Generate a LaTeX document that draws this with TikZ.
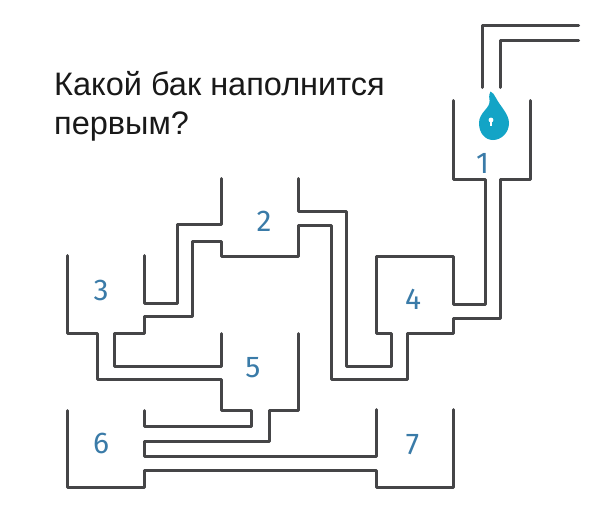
\documentclass[tikz,border=0pt]{standalone}
\usepackage{fontspec}
\setmainfont{Liberation Sans}
\newfontfamily\numfont{Fira Sans}
\definecolor{wall}{HTML}{454547}
\definecolor{numc}{HTML}{3A7BA8}
\definecolor{dropc}{HTML}{13A4C6}
\tikzset{
  wall/.style={draw=wall,line width=3pt,line cap=round,line join=round},
  num/.style={text=numc,font=\numfont\fontsize{30}{30}\selectfont,inner sep=0pt},
  title/.style={text=black!90,font=\fontsize{32.5}{42}\selectfont,anchor=base west,inner sep=0pt}
}
\begin{document}
\begin{tikzpicture}[x=1pt,y=-1pt]
\useasboundingbox (0,0) rectangle (604,527);
\fill[white] (0,0) rectangle (604,527);
% inlet pipe
\path[wall] (482.5,87.5) -- (482.5,25.5) -- (578.5,25.5);
\path[wall] (500.5,87.5) -- (500.5,40.5) -- (578.5,40.5);
% tank 1 with outlets to tank 4
\path[wall] (453.5,100.5) -- (453.5,179.5) -- (485.5,179.5) -- (485.5,304.5) -- (453.5,304.5) -- (453.5,256.5) -- (376.5,256.5) -- (376.5,333.5) -- (391.5,333.5) -- (391.5,366.5) -- (346.5,366.5) -- (346.5,211.5) -- (298.5,211.5) -- (298.5,178.5);
\path[wall] (530.5,100.5) -- (530.5,179.5) -- (500.5,179.5) -- (500.5,318.5) -- (453.5,318.5) -- (453.5,333.5) -- (407.5,333.5) -- (407.5,379.5) -- (331.5,379.5) -- (331.5,225.5) -- (298.5,225.5) -- (298.5,256.5) -- (221.5,256.5) -- (221.5,241.5) -- (192.5,241.5) -- (192.5,316.5) -- (144.5,316.5) -- (144.5,333.5) -- (114.5,333.5) -- (114.5,366.5) -- (221.5,366.5) -- (221.5,333.5);
% tank 2 left to tank 3
\path[wall] (221.5,178.5) -- (221.5,224.5) -- (177.5,224.5) -- (177.5,303.5) -- (144.5,303.5) -- (144.5,255.5);
% tank 3 to tank 6
\path[wall] (67.5,255.5) -- (67.5,333.5) -- (97.5,333.5) -- (97.5,379.5) -- (221.5,379.5) -- (221.5,410.5) -- (251.5,410.5) -- (251.5,426.5) -- (144.5,426.5) -- (144.5,410.5);
% tank 5 to tank 7
\path[wall] (298.5,333.5) -- (298.5,410.5) -- (269.5,410.5) -- (269.5,441.5) -- (144.5,441.5) -- (144.5,456.5) -- (376.5,456.5) -- (376.5,409.5);
% tank 6 to tank 7
\path[wall] (67.5,410.5) -- (67.5,487.5) -- (144.5,487.5) -- (144.5,470.5) -- (376.5,470.5) -- (376.5,487.5) -- (453.5,487.5) -- (453.5,409.5);
% drop
\fill[dropc] (490.5,91.5) .. controls (493,92) and (494,95) .. (496,98)
  .. controls (500,106) and (509,114) .. (509,123)
  .. controls (509,133) and (501,140) .. (493,140)
  .. controls (485,140) and (479,133) .. (479,123)
  .. controls (479,112) and (491,108) .. (489.5,100)
  .. controls (489,96) and (489,93) .. (490.5,91.5) -- cycle;
\fill[white] (491,120) circle (2.4);
\fill[white] (490.3,120) rectangle (491.7,126);
% labels
\node[title] (q1) at (54,95.5) {Какой бак наполнится};
\node[title] (q2) at (54,134.5) {первым?};
\node[num] (n1) at (482.5,163) {1};
\node[num] (n2) at (264,221) {2};
\node[num] (n3) at (101,290.5) {3};
\node[num] (n4) at (413,299) {4};
\node[num] (n5) at (253,368) {5};
\node[num] (n6) at (101,443) {6};
\node[num] (n7) at (412.5,445) {7};
\end{tikzpicture}
\end{document}
